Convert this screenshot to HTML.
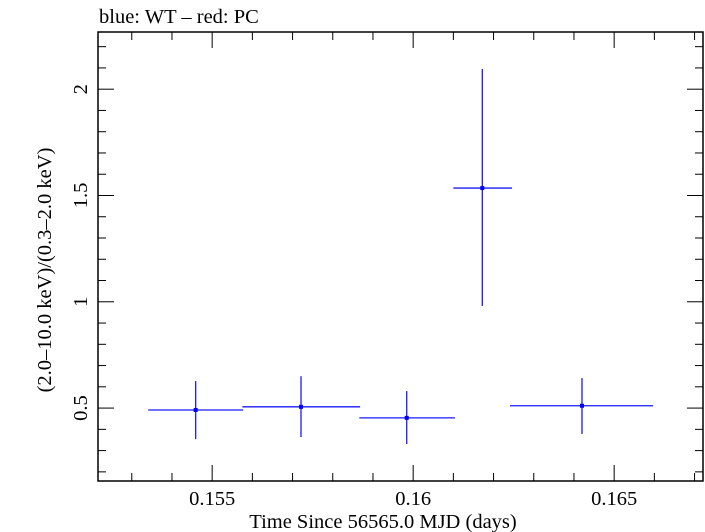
<!DOCTYPE html>
<html><head><meta charset="utf-8"><style>
html,body{margin:0;padding:0;background:#fff;}
svg{display:block;font-family:"Liberation Serif",serif;}
</style></head><body>
<svg id="chart" width="705" height="532" viewBox="0 0 705 532" xmlns="http://www.w3.org/2000/svg">
<text x="99" y="23" font-size="20.5" fill="#000">blue: WT – red: PC</text>
<rect x="98" y="32" width="605" height="449" fill="none" stroke="#000" stroke-width="1.5"/>
<g id="ticks"></g>
<g id="labels"></g>
<g id="series"></g>
<text x="383" y="528" font-size="20.5" text-anchor="middle">Time Since 56565.0 MJD (days)</text>
<text transform="translate(51,270) rotate(-90)" font-size="20.5" text-anchor="middle">(2.0–10.0 keV)/(0.3–2.0 keV)</text>
</svg>
<script>
const xVals = [0.15459, 0.15721, 0.15984, 0.16172, 0.16420];
const xLo = [0.15341, 0.15575, 0.15866, 0.16100, 0.16241];
const xHi = [0.15577, 0.15868, 0.16104, 0.16246, 0.16597];
const yVals = [0.491, 0.506, 0.454, 1.535, 0.511];
const yLo = [0.354, 0.364, 0.331, 0.980, 0.378];
const yHi = [0.627, 0.650, 0.580, 2.095, 0.641];
const xTickLabels = ["0.155", "0.16", "0.165"];
const xTickValues = [0.155, 0.16, 0.165];
const yTickLabels = ["0.5", "1", "1.5", "2"];
const yTickValues = [0.5, 1, 1.5, 2];

const L = 98, R = 703, T = 32, B = 481;
const X0 = 0.15216, X1 = 0.16721, Y0 = 0.157, Y1 = 2.269;
const sx = v => L + (v - X0) / (X1 - X0) * (R - L);
const sy = v => B - (v - Y0) / (Y1 - Y0) * (B - T);
const NS = "http://www.w3.org/2000/svg";
function mk(parent, tag, attrs) {
  const e = document.createElementNS(NS, tag);
  for (const k in attrs) e.setAttribute(k, attrs[k]);
  parent.appendChild(e);
  return e;
}
const ticks = document.getElementById('ticks');
const labels = document.getElementById('labels');
for (let i = 153; i <= 167; i++) {
  const v = i / 1000, x = sx(v);
  if (x < L || x > R) continue;
  const len = (i % 5 === 0) ? 16 : 8;
  const t1 = mk(ticks, 'line', {x1: x, y1: B, x2: x, y2: B - len, stroke: '#000', 'stroke-width': 1});
  
  
  const t2 = mk(ticks, 'line', {x1: x, y1: T, x2: x, y2: T + len, stroke: '#000', 'stroke-width': 1});
  
  
}
for (let i = 2; i <= 22; i++) {
  const v = i / 10, y = sy(v);
  if (y < T || y > B) continue;
  const len = (i % 5 === 0) ? 16 : 8;
  const t1 = mk(ticks, 'line', {x1: L, y1: y, x2: L + len, y2: y, stroke: '#000', 'stroke-width': 1});
  
  
  const t2 = mk(ticks, 'line', {x1: R, y1: y, x2: R - len, y2: y, stroke: '#000', 'stroke-width': 1});
  
  
}
xTickValues.forEach((v, i) => {
  const t = mk(labels, 'text', {x: sx(v), y: 505, 'font-size': 20.5, 'text-anchor': 'middle'});
  t.textContent = xTickLabels[i];
  
  
});
yTickValues.forEach((v, i) => {
  const y = sy(v);
  const t = mk(labels, 'text', {transform: `translate(87,${y}) rotate(-90)`, 'font-size': 20.5, 'text-anchor': 'middle'});
  t.textContent = yTickLabels[i];
  
  
});
const series = document.getElementById('series');
xVals.forEach((v, i) => {
  const g = mk(series, 'g', {});
  
  
  const h = mk(g, 'line', {x1: sx(xLo[i]), x2: sx(xHi[i]), y1: sy(yVals[i]), y2: sy(yVals[i]), stroke: '#1a1aff', 'stroke-width': 1.3});
  
  
  const vl = mk(g, 'line', {x1: sx(v), x2: sx(v), y1: sy(yLo[i]), y2: sy(yHi[i]), stroke: '#1a1aff', 'stroke-width': 1.3});
  
  
  const c = mk(g, 'rect', {x: sx(v) - 2, y: sy(yVals[i]) - 2, width: 4, height: 4, fill: '#0000ff'});
  
  
});
</script>
</body></html>
